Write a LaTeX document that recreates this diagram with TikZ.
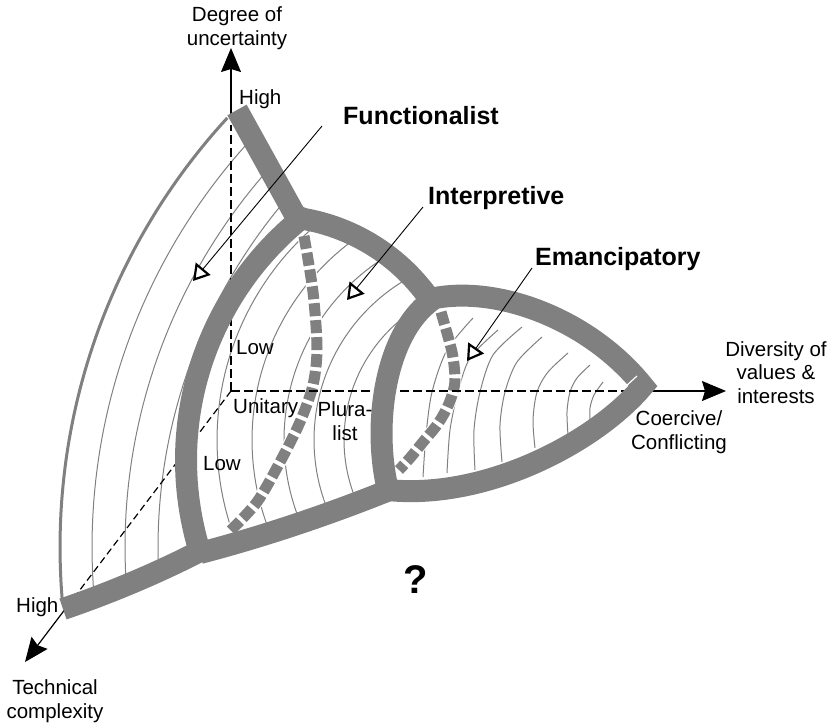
\documentclass[tikz,border=0pt]{standalone}
\usepackage{fontspec}
\setmainfont{Liberation Sans}
\usetikzlibrary{arrows.meta}
\definecolor{bandgray}{HTML}{808080}
\begin{document}
\begin{tikzpicture}[x=1pt,y=-1pt,
  band/.style={draw=bandgray, line width=22pt},
  hatch/.style={draw=bandgray, line width=1pt},
  rim/.style={draw=bandgray, line width=3pt},
  divider/.style={draw=bandgray, line width=11pt, dash pattern=on 13pt off 4pt,
    preaction={draw=white, line width=13pt, solid}},
  axisdash/.style={line width=2pt, dash pattern=on 9pt off 4pt},
  diagdash/.style={line width=1.2pt, dash pattern=on 7pt off 4pt},
  axisline/.style={line width=1.2pt, -{Stealth[length=24pt,width=20pt,inset=3pt]}},
  pointer/.style={line width=0.9pt, -{Triangle[length=16pt,width=19pt,line width=2.2pt,fill=white]}},
  lbl/.style={font=\fontsize{20.5}{23.5}\selectfont, inner sep=0pt},
  paradigm/.style={font=\fontsize{25}{30}\selectfont\bfseries, inner sep=0pt},
]
\useasboundingbox (0,0) rectangle (836,726);

% ---------- hatching arcs ----------
% functionalist sector
\begin{scope}
  \clip (237,112) -- (298,222)
    -- plot[domain=231.1:163.6, samples=40] ({497+311*cos(\x)},{460+311*sin(\x)})
    -- (63,609) -- (0,640) -- (0,100) -- cycle;
  \foreach \r in {602,569,536}
    \draw[hatch] plot[domain=150:240, samples=90] ({694+\r*cos(\x)},{547+\r*sin(\x)});
\end{scope}
% interpretive sector
\begin{scope}
  \clip plot[domain=-81.2:-34, samples=30] ({270+195*cos(\x)},{411+195*sin(\x)})
    -- (410,320) -- (395,345) -- (387,380) -- (384,430) -- (388,490) -- (203,552)
    -- plot[domain=163.6:231.1, samples=40] ({497+311*cos(\x)},{460+311*sin(\x)}) -- cycle;
  \foreach \r in {283,248,216,186,156,126}
    \draw[hatch] plot[domain=90:270, samples=100] ({500+\r*cos(\x)},{440+\r*sin(\x)});
\end{scope}
% emancipatory lens
\draw[hatch] plot[smooth] coordinates {(473,318) (447,350) (432,392) (426,435) (423,477)};
\draw[hatch] plot[smooth] coordinates {(498,330) (470,358) (458,392) (450,430) (447,473)};
\draw[hatch] plot[smooth] coordinates {(522,327) (493,355) (480,392) (474,430) (475,470)};
\draw[hatch] plot[smooth] coordinates {(542,337) (517,362) (505,392) (500,425) (502,462)};
\draw[hatch] plot[smooth] coordinates {(568,353) (548,372) (537,392) (533,420) (535,448)};
\draw[hatch] plot[smooth] coordinates {(590,365) (577,378) (570,392) (567,412) (568,435)};
\draw[hatch] plot[smooth] coordinates {(603,382) (594,395) (590,408) (590,422)};

% ---------- dashed dividers ----------
\draw[divider] plot[smooth] coordinates {(304,236) (313,292) (317,348) (313,385) (300,422) (280,462) (257,502) (230,531)};
\draw[divider] plot[smooth] coordinates {(441,312) (452,352) (455,378) (453,392) (447,408) (437,425) (423,442) (410,458) (399,470)};

% ---------- axes ----------
\coordinate (O) at (231,391);
\coordinate (uTop) at (231,48);
\coordinate (uDash) at (231,125);
\coordinate (uBand) at (231,118);
\coordinate (vDash) at (628,391);
\coordinate (vBand) at (645,391);
\coordinate (vTop) at (726,391);
\coordinate (cDash) at (70,603);
\coordinate (cBand) at (66,608);
\coordinate (cTop) at (25,662);
\draw[axisdash] (O) -- (uDash);
\draw[axisdash] (O) -- (vDash);
\draw[diagdash] (O) -- (cDash);
\draw[axisline] (uBand) -- (uTop);
\draw[axisline] (vBand) -- (vTop);
\draw[axisline] (cBand) -- (cTop);

% ---------- paradigm boundaries ----------
\draw[rim] plot[domain=175.2:222.6, samples=60] ({694+634*cos(\x)},{547+634*sin(\x)});
\draw[band] (237,110) -- (299,222);
\draw[band] (63,609) .. controls (110,593) and (160,572) .. (204,549);
\draw[band, line join=round]
  plot[domain=163.6:231.1, samples=50] ({497+311*cos(\x)},{460+311*sin(\x)})
  -- plot[domain=-81.2:-33, samples=40] ({270+195*cos(\x)},{411+195*sin(\x)});
\draw[band] (200,553) .. controls (265,536) and (330,514) .. (392,489);
\draw[band, line join=miter] (435,298) .. controls (500,286) and (590,320) .. (643,386)
  .. controls (595,443) and (485,500) .. (388,490)
  .. controls (372,425) and (385,330) .. cycle;
\draw[white, line width=1.2pt] (625,387) -- (637,376);

% ---------- pointers ----------
\coordinate (fS) at (322,126);
\coordinate (fT) at (193,281);
\coordinate (iS) at (423,207);
\coordinate (iT) at (347,300);
\coordinate (eS) at (532,268);
\coordinate (eT) at (467,361);
\draw[pointer] (fS) -- (fT);
\draw[pointer] (iS) -- (iT);
\draw[pointer] (eS) -- (eT);

% ---------- labels (multi-line nodes sit on their last baseline) ----------
\node[lbl, align=center, anchor=base] (uncert) at (237,45) {Degree of\\uncertainty};
\node[lbl, anchor=base west] (uHigh) at (239,104) {High};
\node[lbl, anchor=base west] (uLow) at (236,354) {Low};
\node[lbl, anchor=base west] (unitary) at (233,413) {Unitary};
\node[lbl, align=center, anchor=base] (plural) at (345,440) {Plura-\\list};
\node[lbl, anchor=base west] (cLow) at (203,470) {Low};
\node[lbl, align=center, anchor=base] (divers) at (776,403) {Diversity of\\values \&\\interests};
\node[lbl, align=center, anchor=base] (coerc) at (679,449) {Coercive/\\Conflicting};
\node[lbl, anchor=base west] (cHigh) at (16,612) {High};
\node[lbl, align=center, anchor=base] (techn) at (55,718) {Technical\\complexity};
\node[paradigm, anchor=base west] (func) at (343,124) {Functionalist};
\node[paradigm, anchor=base west] (interp) at (428,204) {Interpretive};
\node[paradigm, anchor=base west] (emanc) at (535,265) {Emancipatory};
\node[font=\fontsize{40}{40}\selectfont\bfseries, inner sep=0pt, anchor=base] (query) at (416,593) {?};
\end{tikzpicture}
\end{document}
